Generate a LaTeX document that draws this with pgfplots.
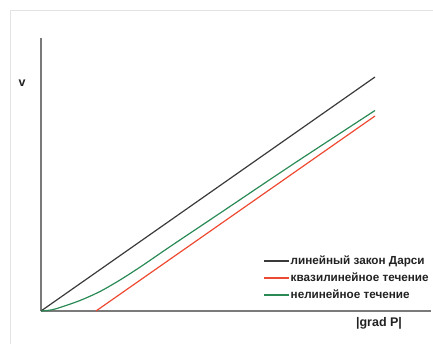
\documentclass[border=0pt]{standalone}
\usepackage{pgfplots}
\pgfplotsset{compat=1.18}
\usepackage{fontspec}
\setmainfont{Liberation Sans}
\newfontfamily\bsans{Liberation Sans}[UprightFont={* Bold}]
\definecolor{cblack}{HTML}{3A3A3A}
\definecolor{cred}{HTML}{EE4A32}
\definecolor{cgreen}{HTML}{2A8A55}
\definecolor{caxis}{HTML}{7A7A7A}
\definecolor{ctext}{HTML}{222222}
\begin{document}
\begin{tikzpicture}[x=1pt,y=1pt]
\useasboundingbox (0,0) rectangle (433,344);
\draw[gray!22, line width=1pt] (10,0) -- (10,333) -- (433,333);
\begin{axis}[at={(41pt,33pt)}, anchor=origin, scale only axis,
  width=390pt, height=273pt,
  xmin=0, xmax=390, ymin=0, ymax=273,
  axis lines=left, axis line style={-, caxis, line width=1.3pt},
  xtick=\empty, ytick=\empty, clip=false,
  legend style={at={(axis cs:222,57)}, anchor=north west, draw=none, fill=none,
    font=\fontsize{11.7}{12}\bsans,
    inner sep=0pt, row sep=3pt, nodes={inner sep=1pt, text=ctext, text height=9pt, text depth=3pt}},
  legend cell align=left,
  legend image code/.code={\draw[#1, line width=1.5pt] (0pt,0pt) -- (25pt,0pt);},
]
\addplot[cblack, line width=1.2pt] coordinates {(0,0) (334,234)};
\addlegendentry{линейный закон Дарси}
\addplot[cred, line width=1.2pt] coordinates {(55,0) (334,195)};
\addlegendentry{квазилинейное течение}
\addplot[cgreen, line width=1.2pt, smooth] coordinates {(0,0) (10,1.0) (19,3.5) (39,10.5) (59,19.5) (79,31) (100,44.5) (130,65) (180,98.5) (250,145.5) (334,200.5)};
\addlegendentry{нелинейное течение}
\node[font=\fontsize{12.5}{14}\bsans, text=ctext] at (axis cs:-19,228) {v};
\node[font=\fontsize{12.5}{14}\bsans, text=ctext] at (axis cs:338,-12) {|grad P|};
\end{axis}
\end{tikzpicture}
\end{document}
